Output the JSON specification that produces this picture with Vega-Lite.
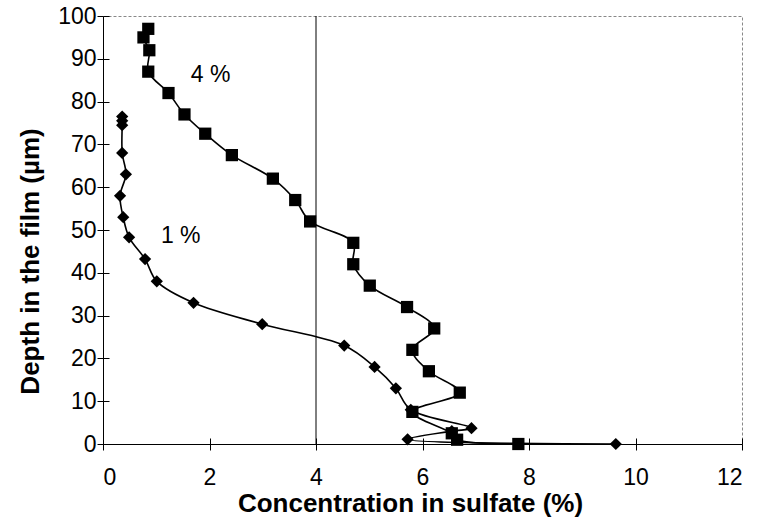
{
  "$schema": "https://vega.github.io/schema/vega-lite/v6.json",
  "autosize": "none",
  "width": 639,
  "height": 428,
  "padding": {"left": 103, "top": 16, "right": 21, "bottom": 75},
  "background": "white",
  "config": {
    "font": "Liberation Sans",
    "view": {"stroke": "#888888", "strokeWidth": 1, "strokeDash": [3, 2]}
  },
  "datasets": {
    "profiles": [
      {"series": "4 %", "order": 1, "conc": 0.85, "depth": 97},
      {"series": "4 %", "order": 2, "conc": 0.76, "depth": 95},
      {"series": "4 %", "order": 3, "conc": 0.87, "depth": 92},
      {"series": "4 %", "order": 4, "conc": 0.85, "depth": 87},
      {"series": "4 %", "order": 5, "conc": 1.23, "depth": 82},
      {"series": "4 %", "order": 6, "conc": 1.53, "depth": 77},
      {"series": "4 %", "order": 7, "conc": 1.92, "depth": 72.5},
      {"series": "4 %", "order": 8, "conc": 2.42, "depth": 67.5},
      {"series": "4 %", "order": 9, "conc": 3.19, "depth": 62},
      {"series": "4 %", "order": 10, "conc": 3.61, "depth": 57},
      {"series": "4 %", "order": 11, "conc": 3.89, "depth": 52},
      {"series": "4 %", "order": 12, "conc": 4.7, "depth": 47},
      {"series": "4 %", "order": 13, "conc": 4.7, "depth": 42},
      {"series": "4 %", "order": 14, "conc": 5.01, "depth": 37},
      {"series": "4 %", "order": 15, "conc": 5.71, "depth": 32},
      {"series": "4 %", "order": 16, "conc": 6.22, "depth": 27},
      {"series": "4 %", "order": 17, "conc": 5.81, "depth": 22},
      {"series": "4 %", "order": 18, "conc": 6.12, "depth": 17},
      {"series": "4 %", "order": 19, "conc": 6.7, "depth": 12},
      {"series": "4 %", "order": 20, "conc": 5.81, "depth": 7.5},
      {"series": "4 %", "order": 21, "conc": 6.55, "depth": 2.5},
      {"series": "4 %", "order": 22, "conc": 6.65, "depth": 1},
      {"series": "4 %", "order": 23, "conc": 7.8, "depth": 0},
      {"series": "1 %", "order": 1, "conc": 0.36, "depth": 76.5},
      {"series": "1 %", "order": 2, "conc": 0.36, "depth": 75.5},
      {"series": "1 %", "order": 3, "conc": 0.36, "depth": 74.5},
      {"series": "1 %", "order": 4, "conc": 0.36, "depth": 68},
      {"series": "1 %", "order": 5, "conc": 0.43, "depth": 63},
      {"series": "1 %", "order": 6, "conc": 0.32, "depth": 58},
      {"series": "1 %", "order": 7, "conc": 0.38, "depth": 53},
      {"series": "1 %", "order": 8, "conc": 0.49, "depth": 48.3},
      {"series": "1 %", "order": 9, "conc": 0.79, "depth": 43.2},
      {"series": "1 %", "order": 10, "conc": 1.01, "depth": 38},
      {"series": "1 %", "order": 11, "conc": 1.7, "depth": 33},
      {"series": "1 %", "order": 12, "conc": 2.99, "depth": 28},
      {"series": "1 %", "order": 13, "conc": 4.53, "depth": 23},
      {"series": "1 %", "order": 14, "conc": 5.1, "depth": 18},
      {"series": "1 %", "order": 15, "conc": 5.5, "depth": 13},
      {"series": "1 %", "order": 16, "conc": 5.78, "depth": 8},
      {"series": "1 %", "order": 17, "conc": 6.92, "depth": 3.7},
      {"series": "1 %", "order": 18, "conc": 6.55, "depth": 3},
      {"series": "1 %", "order": 19, "conc": 5.72, "depth": 1.1},
      {"series": "1 %", "order": 20, "conc": 9.63, "depth": 0}
    ],
    "labels": [
      {"label": "4 %", "conc": 2.02, "depth": 86.3},
      {"label": "1 %", "conc": 1.46, "depth": 48.6}
    ],
    "reference": [
      {"conc": 4}
    ]
  },
  "resolve": {"axis": {"x": "independent", "y": "independent"}},
  "layer": [
    {
      "data": {"name": "profiles"},
      "mark": {"type": "line", "color": "black", "strokeWidth": 1.6, "interpolate": "catmull-rom", "clip": true},
      "encoding": {
        "x": {
          "field": "conc", "type": "quantitative",
          "scale": {"domain": [0, 12], "nice": false},
          "axis": {
            "orient": "bottom",
            "title": "Concentration in sulfate (%)", "values": [0, 2, 4, 6, 8, 10, 12],
            "grid": false, "domainColor": "black", "tickColor": "black", "tickSize": 6,
            "labelFontSize": 23, "labelColor": "black", "labelPadding": 16,
            "titleFontSize": 26, "titleFontWeight": "bold", "titleColor": "black", "titlePadding": 1,
            "titleX": 307
          }
        },
        "y": {
          "field": "depth", "type": "quantitative",
          "scale": {"domain": [0, 100], "nice": false},
          "axis": {
            "orient": "left",
            "title": "Depth in the film (µm)", "values": [0, 10, 20, 30, 40, 50, 60, 70, 80, 90, 100],
            "grid": false, "domainColor": "black", "tickColor": "black", "tickSize": 6,
            "labelFontSize": 23, "labelColor": "black", "labelPadding": 1,
            "titleFontSize": 26, "titleFontWeight": "bold", "titleColor": "black", "titlePadding": 14,
            "titleY": 245
          }
        },
        "detail": {"field": "series"},
        "order": {"field": "order", "type": "quantitative"}
      }
    },
    {
      "data": {"name": "reference"},
      "mark": {"type": "rule", "color": "black", "strokeWidth": 1},
      "encoding": {
        "x": {"field": "conc", "type": "quantitative", "axis": null}
      }
    },
    {
      "data": {"name": "profiles"},
      "mark": {"type": "point", "filled": true, "color": "black", "opacity": 1},
      "encoding": {
        "x": {"field": "conc", "type": "quantitative", "axis": null},
        "y": {"field": "depth", "type": "quantitative", "axis": null},
        "shape": {
          "field": "series", "type": "nominal",
          "scale": {"domain": ["4 %", "1 %"], "range": ["square", "diamond"]},
          "legend": null
        },
        "size": {
          "field": "series", "type": "nominal",
          "scale": {"domain": ["4 %", "1 %"], "range": [150, 150]},
          "legend": null
        }
      }
    },
    {
      "data": {"name": "labels"},
      "mark": {"type": "text", "fontSize": 23, "color": "black", "align": "center", "baseline": "middle"},
      "encoding": {
        "x": {
          "field": "conc", "type": "quantitative",
          "axis": {"orient": "bottom", "values": [0, 2, 4, 6, 8, 10, 12], "labels": false, "domain": false, "grid": false, "title": null, "tickColor": "black", "tickSize": -6}
        },
        "y": {
          "field": "depth", "type": "quantitative",
          "axis": {"orient": "left", "values": [0, 10, 20, 30, 40, 50, 60, 70, 80, 90, 100], "labels": false, "domain": false, "grid": false, "title": null, "tickColor": "black", "tickSize": -6}
        },
        "text": {"field": "label"}
      }
    }
  ]
}
